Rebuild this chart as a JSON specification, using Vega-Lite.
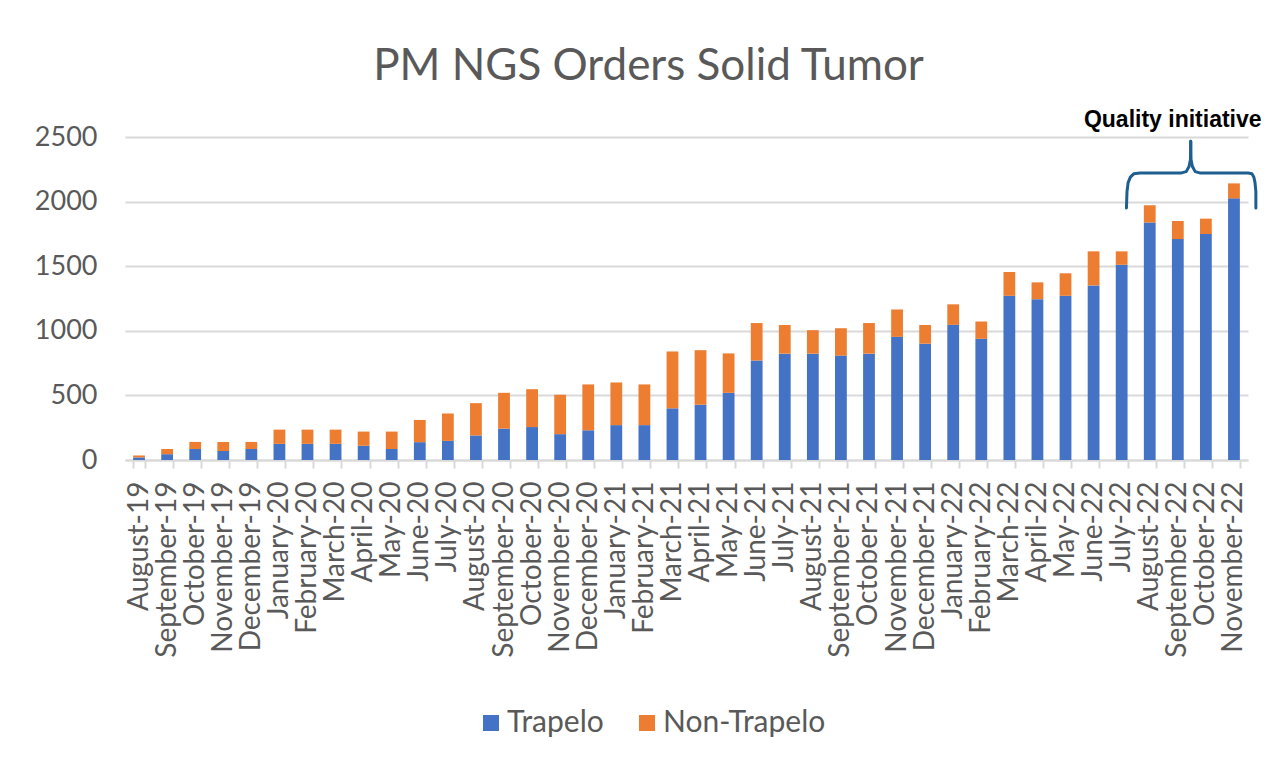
{
  "$schema": "https://vega.github.io/schema/vega-lite/v6.json",
  "width": 1123,
  "height": 323,
  "autosize": {"type": "none"},
  "padding": {"left": 125, "top": 137, "right": 23, "bottom": 306},
  "background": "white",
  "title": {
    "text": "PM NGS Orders Solid Tumor",
    "font": "Lato",
    "fontSize": 44,
    "fontWeight": "normal",
    "color": "#595959",
    "anchor": "middle",
    "frame": "group",
    "dx": -38,
    "offset": 20
  },
  "config": {
    "view": {"stroke": null}
  },
  "layer": [
    {
      "data": {
        "values": [
          {"month": "August-19", "Trapelo": 20, "Non-Trapelo": 15},
          {"month": "September-19", "Trapelo": 45, "Non-Trapelo": 40},
          {"month": "October-19", "Trapelo": 85, "Non-Trapelo": 55},
          {"month": "November-19", "Trapelo": 70, "Non-Trapelo": 70},
          {"month": "December-19", "Trapelo": 85, "Non-Trapelo": 55},
          {"month": "January-20", "Trapelo": 125, "Non-Trapelo": 110},
          {"month": "February-20", "Trapelo": 125, "Non-Trapelo": 110},
          {"month": "March-20", "Trapelo": 125, "Non-Trapelo": 110},
          {"month": "April-20", "Trapelo": 110, "Non-Trapelo": 110},
          {"month": "May-20", "Trapelo": 85, "Non-Trapelo": 135},
          {"month": "June-20", "Trapelo": 138, "Non-Trapelo": 172},
          {"month": "July-20", "Trapelo": 148, "Non-Trapelo": 212},
          {"month": "August-20", "Trapelo": 190, "Non-Trapelo": 250},
          {"month": "September-20", "Trapelo": 243, "Non-Trapelo": 277},
          {"month": "October-20", "Trapelo": 255, "Non-Trapelo": 293},
          {"month": "November-20", "Trapelo": 200, "Non-Trapelo": 305},
          {"month": "December-20", "Trapelo": 230, "Non-Trapelo": 355},
          {"month": "January-21", "Trapelo": 270, "Non-Trapelo": 330},
          {"month": "February-21", "Trapelo": 270, "Non-Trapelo": 315},
          {"month": "March-21", "Trapelo": 400, "Non-Trapelo": 440},
          {"month": "April-21", "Trapelo": 428, "Non-Trapelo": 422},
          {"month": "May-21", "Trapelo": 520, "Non-Trapelo": 305},
          {"month": "June-21", "Trapelo": 770, "Non-Trapelo": 290},
          {"month": "July-21", "Trapelo": 823, "Non-Trapelo": 222},
          {"month": "August-21", "Trapelo": 823, "Non-Trapelo": 182},
          {"month": "September-21", "Trapelo": 808, "Non-Trapelo": 212},
          {"month": "October-21", "Trapelo": 823, "Non-Trapelo": 237},
          {"month": "November-21", "Trapelo": 953, "Non-Trapelo": 212},
          {"month": "December-21", "Trapelo": 900, "Non-Trapelo": 145},
          {"month": "January-22", "Trapelo": 1046, "Non-Trapelo": 159},
          {"month": "February-22", "Trapelo": 938, "Non-Trapelo": 134},
          {"month": "March-22", "Trapelo": 1271, "Non-Trapelo": 184},
          {"month": "April-22", "Trapelo": 1245, "Non-Trapelo": 130},
          {"month": "May-22", "Trapelo": 1271, "Non-Trapelo": 174},
          {"month": "June-22", "Trapelo": 1351, "Non-Trapelo": 264},
          {"month": "July-22", "Trapelo": 1511, "Non-Trapelo": 104},
          {"month": "August-22", "Trapelo": 1839, "Non-Trapelo": 132},
          {"month": "September-22", "Trapelo": 1710, "Non-Trapelo": 140},
          {"month": "October-22", "Trapelo": 1749, "Non-Trapelo": 119},
          {"month": "November-22", "Trapelo": 2025, "Non-Trapelo": 116}
        ]
      },
      "transform": [
        {"fold": ["Trapelo", "Non-Trapelo"], "as": ["type", "value"]}
      ],
      "mark": {"type": "bar"},
      "encoding": {
        "x": {
          "field": "month",
          "type": "ordinal",
          "sort": null,
          "scale": {"paddingInner": 0.58, "paddingOuter": 0.29},
          "axis": {
            "title": null,
            "labelAngle": -90,
            "labelFont": "Lato",
            "labelFontSize": 28,
            "labelColor": "#595959",
            "labelPadding": 13,
            "labelOverlap": false,
            "labelBound": false,
            "labelLimit": 400,
            "tickBand": "extent",
            "tickSize": 8,
            "tickColor": "#d9d9d9",
            "tickWidth": 2,
            "domainColor": "#d9d9d9",
            "domainWidth": 2,
            "grid": false
          }
        },
        "y": {
          "field": "value",
          "type": "quantitative",
          "stack": "zero",
          "scale": {"domain": [0, 2500], "nice": false},
          "axis": {
            "title": null,
            "values": [0, 500, 1000, 1500, 2000, 2500],
            "format": "d",
            "domain": false,
            "ticks": false,
            "tickSize": 0,
            "labelFont": "Lato",
            "labelFontSize": 27,
            "labelColor": "#595959",
            "labelPadding": 28,
            "grid": true,
            "gridColor": "#d9d9d9",
            "gridWidth": 2
          }
        },
        "color": {
          "field": "type",
          "type": "nominal",
          "scale": {"domain": ["Trapelo", "Non-Trapelo"], "range": ["#4472C4", "#ED7D31"]},
          "legend": {
            "title": null,
            "orient": "none",
            "direction": "horizontal",
            "legendX": 351,
            "legendY": 571,
            "padding": 0,
            "symbolType": "square",
            "symbolSize": 256,
            "symbolStrokeWidth": 0,
            "labelFont": "Lato",
            "labelFontSize": 30,
            "labelColor": "#595959",
            "labelOffset": 1,
            "labelLimit": 400,
            "columnPadding": 28
          }
        },
        "order": {"field": "type", "sort": "descending"}
      }
    },
    {
      "data": {
        "values": [
          {"half": "L", "i": 1, "bx": 35.67, "by": 1951},
          {"half": "L", "i": 2, "bx": 35.69, "by": 2077},
          {"half": "L", "i": 3, "bx": 35.73, "by": 2147},
          {"half": "L", "i": 4, "bx": 35.81, "by": 2189},
          {"half": "L", "i": 5, "bx": 35.93, "by": 2215},
          {"half": "L", "i": 6, "bx": 36.15, "by": 2222},
          {"half": "L", "i": 7, "bx": 37.63, "by": 2222},
          {"half": "L", "i": 8, "bx": 37.8, "by": 2232},
          {"half": "L", "i": 9, "bx": 37.9, "by": 2271},
          {"half": "L", "i": 10, "bx": 37.95, "by": 2325},
          {"half": "L", "i": 11, "bx": 37.96, "by": 2467},
          {"half": "R", "i": 1, "bx": 37.96, "by": 2467},
          {"half": "R", "i": 2, "bx": 37.97, "by": 2325},
          {"half": "R", "i": 3, "bx": 38.02, "by": 2271},
          {"half": "R", "i": 4, "bx": 38.12, "by": 2232},
          {"half": "R", "i": 5, "bx": 38.28, "by": 2222},
          {"half": "R", "i": 6, "bx": 40.0, "by": 2222},
          {"half": "R", "i": 7, "bx": 40.14, "by": 2215},
          {"half": "R", "i": 8, "bx": 40.21, "by": 2189},
          {"half": "R", "i": 9, "bx": 40.25, "by": 2147},
          {"half": "R", "i": 10, "bx": 40.28, "by": 2077},
          {"half": "R", "i": 11, "bx": 40.28, "by": 1951}
        ]
      },
      "mark": {"type": "line", "color": "#1F5F8F", "strokeWidth": 3, "strokeCap": "round", "strokeJoin": "round", "clip": false},
      "encoding": {
        "x": {"field": "bx", "type": "quantitative", "scale": {"domain": [0, 40], "nice": false, "zero": false}, "axis": null},
        "y": {"field": "by", "type": "quantitative", "scale": {"domain": [0, 2500], "nice": false}, "axis": null},
        "detail": {"field": "half"},
        "order": {"field": "i"}
      }
    },
    {
      "data": {"values": [{"label": "Quality initiative", "tx": 37.32, "ty": 2581}]},
      "mark": {"type": "text", "font": "Liberation Sans", "fontSize": 23, "fontWeight": "bold", "color": "#000000", "align": "center", "baseline": "alphabetic", "clip": false},
      "encoding": {
        "x": {"field": "tx", "type": "quantitative", "scale": {"domain": [0, 40], "nice": false, "zero": false}, "axis": null},
        "y": {"field": "ty", "type": "quantitative", "scale": {"domain": [0, 2500], "nice": false}, "axis": null},
        "text": {"field": "label"}
      }
    }
  ],
  "resolve": {"scale": {"x": "independent"}, "axis": {"x": "independent", "y": "independent"}}
}
